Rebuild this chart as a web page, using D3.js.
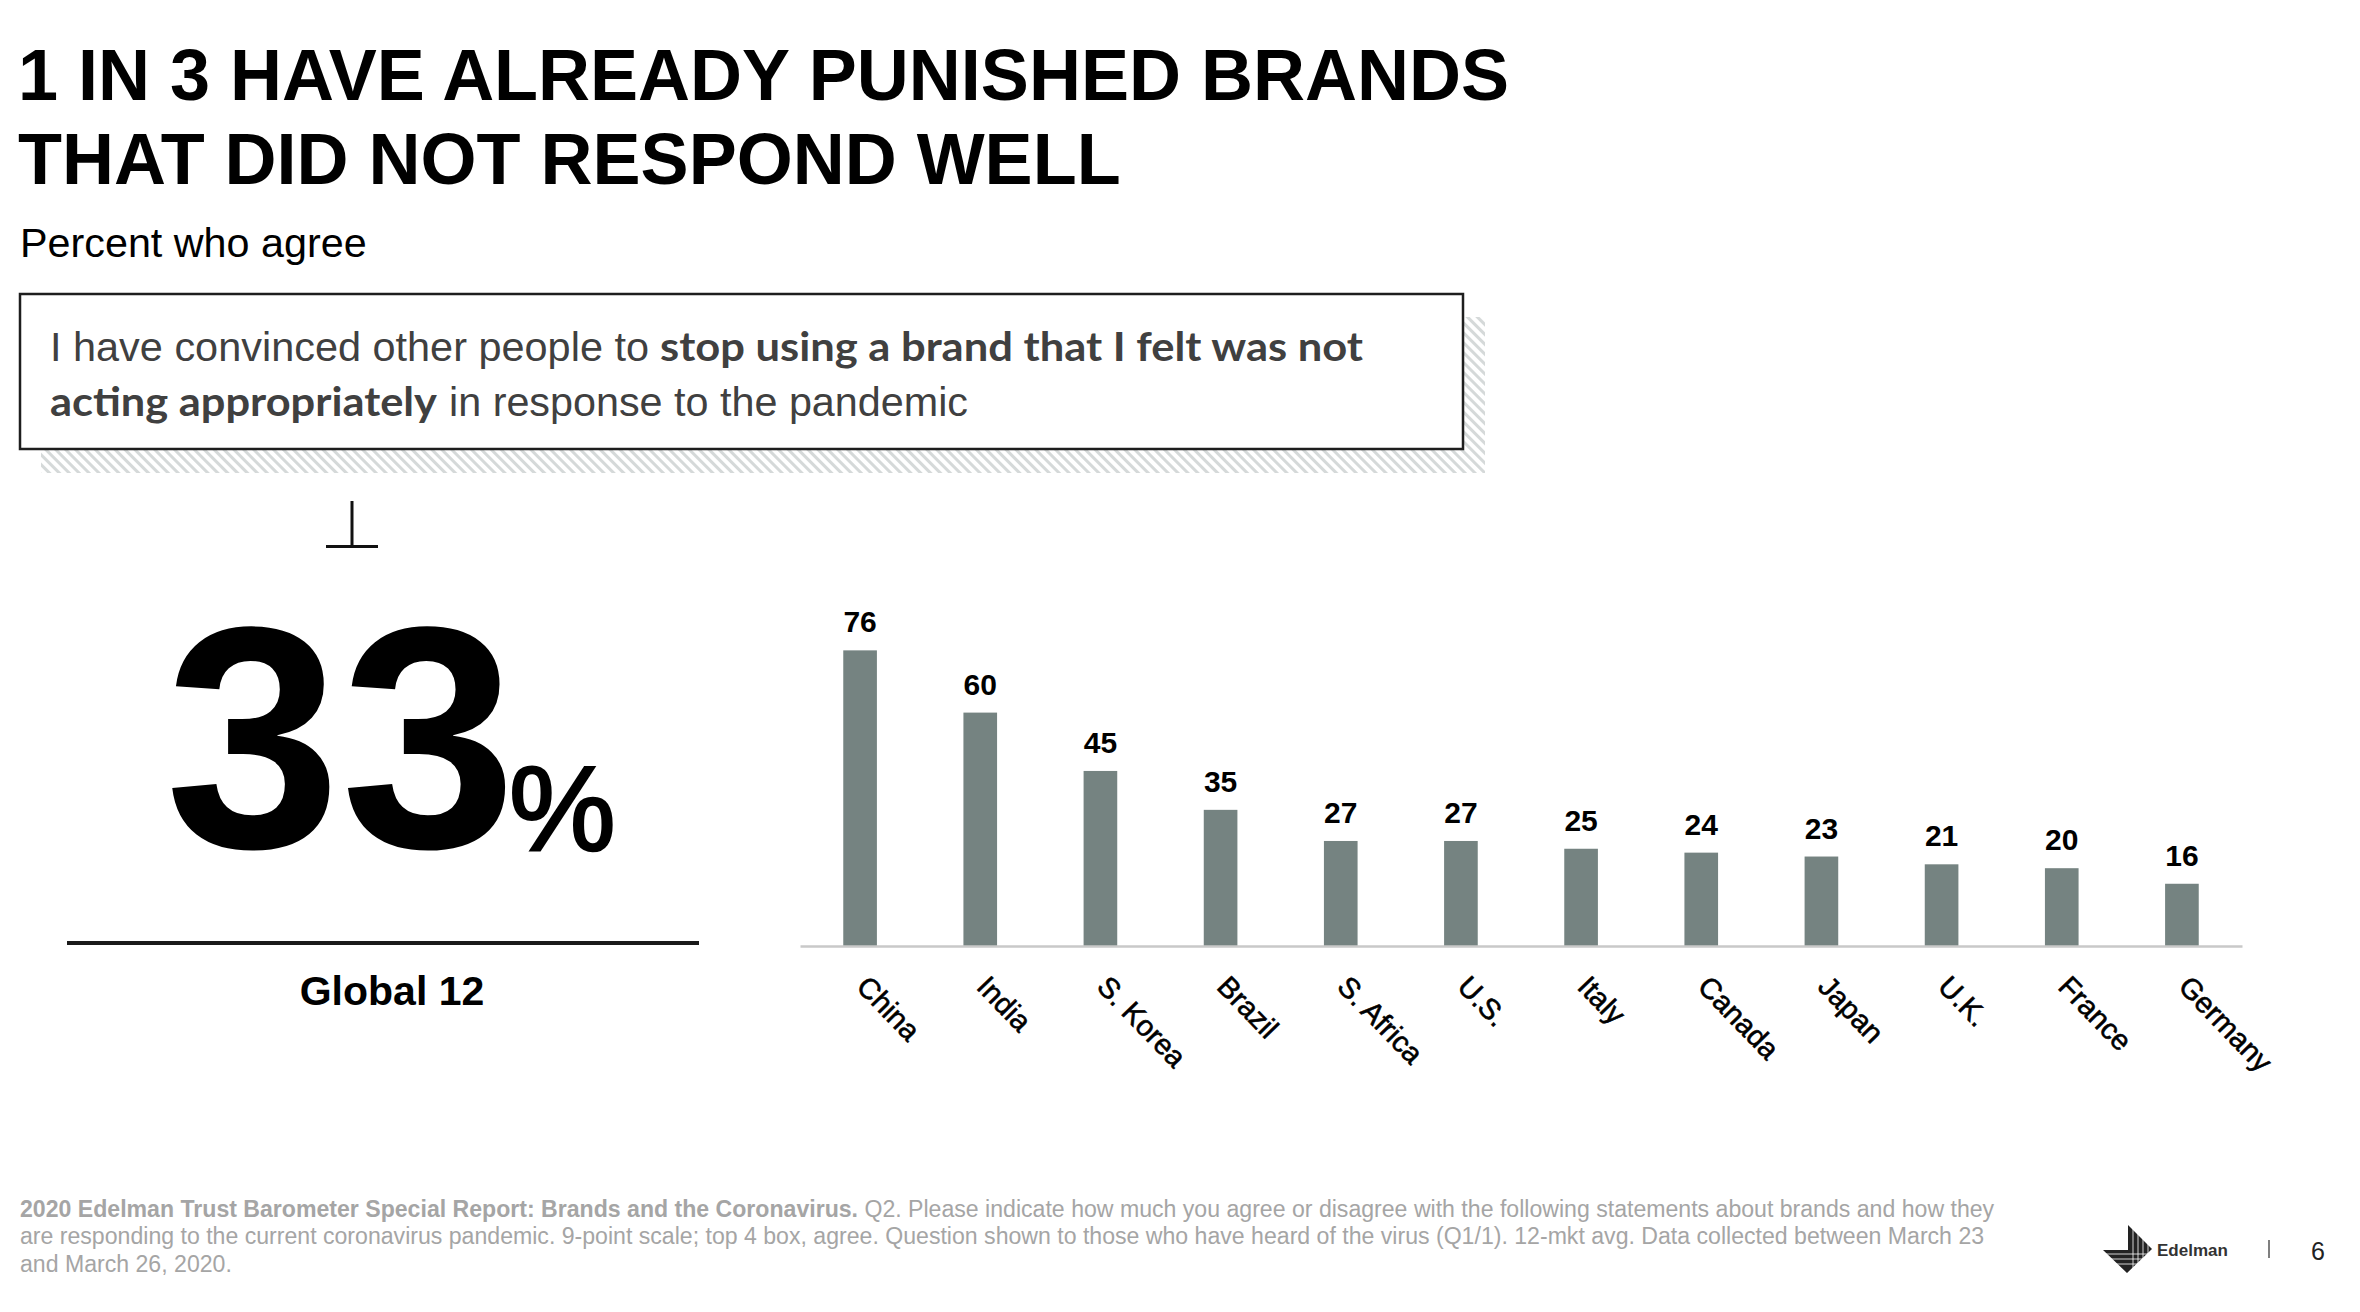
<!DOCTYPE html>
<html>
<head>
<meta charset="utf-8">
<script src="https://cdn.jsdelivr.net/npm/d3@7/dist/d3.min.js"></script>
<style>
  html, body { margin: 0; padding: 0; background: #fff; }
  svg { display: block; }
</style>
</head>
<body>
<svg id="chart" width="2360" height="1312"></svg>
<script>
// ---------- data ----------
const countries = ["China", "India", "S. Korea", "Brazil", "S. Africa", "U.S.", "Italy", "Canada", "Japan", "U.K.", "France", "Germany"];
const values = [76, 60, 45, 35, 27, 27, 25, 24, 23, 21, 20, 16];
const globalValue = 33;
const globalLabel = "Global 12";
const titleLines = ["1 IN 3 HAVE ALREADY PUNISHED BRANDS", "THAT DID NOT RESPOND WELL"];
const subtitle = "Percent who agree";
const statementLine1 = [
  { text: "I have convinced other people to", bold: false },
  { text: "stop using a brand that I felt was not", bold: true }
];
const statementLine2 = [
  { text: "acting appropriately", bold: true },
  { text: "in response to the pandemic", bold: false }
];
const footBold = "2020 Edelman Trust Barometer Special Report: Brands and the Coronavirus.";
const footLines = [
  " Q2. Please indicate how much you agree or disagree with the following statements about brands and how they",
  "are responding to the current coronavirus pandemic. 9-point scale; top 4 box, agree. Question shown to those who have heard of the virus (Q1/1). 12-mkt avg. Data collected between March 23",
  "and March 26, 2020."
];
const pageNumber = "6";

// ---------- drawing ----------
const svg = d3.select("#chart");
const SANS = "'Liberation Sans', Arial, Helvetica, sans-serif";

// defs: hatch pattern for box shadow
const defs = svg.append("defs");
const pat = defs.append("pattern")
  .attr("id", "hatch")
  .attr("patternUnits", "userSpaceOnUse")
  .attr("width", 7).attr("height", 7)
  .attr("patternTransform", "rotate(-45)");
pat.append("rect").attr("width", 7).attr("height", 7).attr("fill", "#ffffff");
pat.append("rect").attr("x", 0).attr("y", 0).attr("width", 3).attr("height", 7).attr("fill", "#d5d9d9");

// Title
svg.append("g").selectAll("text").data(titleLines).join("text")
  .attr("x", 18).attr("y", (d, i) => 100 + i * 84)
  .attr("font-family", SANS).attr("font-weight", 700).attr("font-size", 72)
  .attr("fill", "#000").text(d => d);

// Subtitle
svg.append("text").attr("x", 20).attr("y", 257)
  .attr("font-family", SANS).attr("font-size", 41.3).attr("fill", "#000").text(subtitle);

// Statement box with hatched shadow
svg.append("rect").attr("x", 41).attr("y", 317).attr("width", 1444).attr("height", 156).attr("fill", "url(#hatch)");
svg.append("rect").attr("x", 20).attr("y", 294).attr("width", 1443).attr("height", 155)
  .attr("fill", "#fff").attr("stroke", "#1e1e1e").attr("stroke-width", 2.5);

function statementSeg(seg, x, y, len) {
  const t = svg.append("text").attr("x", x).attr("y", y).attr("fill", "#404040").text(seg.text);
  if (seg.bold) {
    t.attr("font-family", "Lato, 'Open Sans', sans-serif").attr("font-weight", 700).attr("font-size", 40);
  } else {
    t.attr("font-family", SANS).attr("font-size", 41);
  }
  if (len) t.attr("textLength", len).attr("lengthAdjust", "spacingAndGlyphs");
  return t;
}
statementSeg(statementLine1[0], 50, 361, 599);
statementSeg(statementLine1[1], 660, 361, 703);
statementSeg(statementLine2[0], 50, 416, 387);
statementSeg(statementLine2[1], 449, 416, 519);

// ⊥ mark
const mark = svg.append("g").attr("stroke", "#111").attr("stroke-width", 3).attr("fill", "none");
mark.append("line").attr("x1", 352).attr("x2", 352).attr("y1", 501).attr("y2", 546);
mark.append("line").attr("x1", 326).attr("x2", 378).attr("y1", 546.5).attr("y2", 546.5);

// Big number
svg.append("text").attr("x", 165).attr("y", 847)
  .attr("font-family", SANS).attr("font-weight", 700).attr("font-size", 316)
  .attr("fill", "#000").text(String(globalValue));
svg.append("text").attr("x", 509).attr("y", 850)
  .attr("font-family", SANS).attr("font-weight", 400).attr("font-size", 120)
  .attr("fill", "#000").attr("stroke", "#000").attr("stroke-width", 2.5).text("%");
svg.append("line").attr("x1", 67).attr("x2", 699).attr("y1", 943).attr("y2", 943)
  .attr("stroke", "#1a1a1a").attr("stroke-width", 4);
svg.append("text").attr("x", 392).attr("y", 1005).attr("text-anchor", "middle")
  .attr("font-family", SANS).attr("font-weight", 700).attr("font-size", 41)
  .attr("fill", "#000").text(globalLabel);

// Bar chart
const axisY = 946;
const x = d3.scaleBand().domain(countries).range([800, 2242]).paddingInner(0.72).paddingOuter(0.36);
const y = d3.scaleLinear().domain([0, 80]).range([axisY, axisY - 80 * 3.89]);

const g = svg.append("g");
g.selectAll("rect.bar").data(values).join("rect")
  .attr("class", "bar")
  .attr("x", (d, i) => x(countries[i]))
  .attr("y", d => y(d))
  .attr("width", x.bandwidth())
  .attr("height", d => y(0) - y(d))
  .attr("fill", "#758381");

g.selectAll("text.val").data(values).join("text")
  .attr("class", "val")
  .attr("x", (d, i) => x(countries[i]) + x.bandwidth() / 2)
  .attr("y", d => y(d) - 18)
  .attr("text-anchor", "middle")
  .attr("font-family", SANS).attr("font-weight", 700).attr("font-size", 30)
  .attr("fill", "#000").text(d => d);

// x axis
const xAxis = d3.axisBottom(x).tickSize(0).tickPadding(0);
const ax = svg.append("g").attr("transform", `translate(0,${axisY})`).call(xAxis);
ax.select(".domain").attr("stroke", "#c9c9c9").attr("stroke-width", 2.5);
ax.selectAll(".tick text")
  .attr("font-family", SANS).attr("font-size", 29).attr("fill", "#000")
  .attr("stroke", "#000").attr("stroke-width", 0.6)
  .attr("text-anchor", "start").attr("dy", null).attr("y", 0)
  .attr("transform", "translate(-5,42) rotate(46)");

// Footer
const foot = svg.append("g").attr("font-family", SANS).attr("font-size", 23.1).attr("fill", "#a5a5a5");
const f1 = foot.append("text").attr("x", 20).attr("y", 1217);
f1.append("tspan").attr("font-weight", 700).text(footBold);
f1.append("tspan").text(footLines[0]);
foot.append("text").attr("x", 20).attr("y", 1244).text(footLines[1]);
foot.append("text").attr("x", 20).attr("y", 1272).text(footLines[2]);

// Edelman logo
const logo = svg.append("g");
logo.append("path")
  .attr("d", "M2128,1225 L2152,1249 L2127,1273 L2103,1250 L2128,1250 Z")
  .attr("fill", "#222");
const lg = logo.append("g").attr("stroke", "#fff").attr("stroke-width", 0.8);
[2133, 2138, 2143, 2148].forEach(xx => lg.append("line").attr("x1", xx).attr("x2", xx).attr("y1", 1228).attr("y2", 1270));
[1254, 1259, 1264].forEach(yy => lg.append("line").attr("x1", 2105).attr("x2", 2150).attr("y1", yy).attr("y2", yy));
logo.append("text").attr("x", 2157).attr("y", 1256)
  .attr("font-family", SANS).attr("font-weight", 700).attr("font-size", 17)
  .attr("fill", "#333").text("Edelman");
svg.append("line").attr("x1", 2269).attr("x2", 2269).attr("y1", 1240).attr("y2", 1258)
  .attr("stroke", "#555").attr("stroke-width", 1.5);
svg.append("text").attr("x", 2311).attr("y", 1260)
  .attr("font-family", SANS).attr("font-size", 25).attr("fill", "#222").text(pageNumber);
</script>
</body>
</html>
